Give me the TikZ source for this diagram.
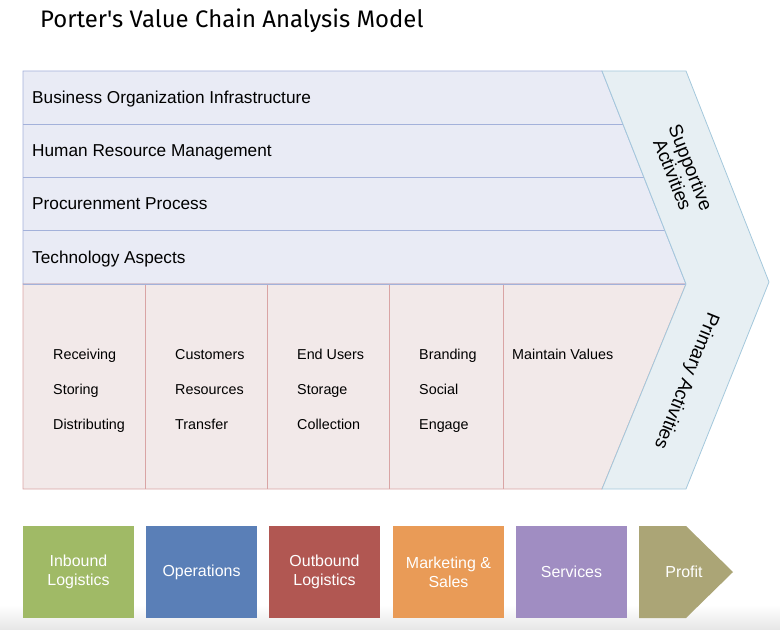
\documentclass[tikz,border=0pt]{standalone}
\usepackage{fontspec}
\setmainfont{Liberation Sans}
\newfontfamily\titlefont{Fira Sans}
\definecolor{supfill}{HTML}{E9EBF5}
\definecolor{supline}{HTML}{A3B1DA}
\definecolor{prifill}{HTML}{F2E9E9}
\definecolor{priline}{HTML}{D9A4A4}
\definecolor{chevfill}{HTML}{E7EFF3}
\definecolor{chevline}{HTML}{A4C8DC}
\definecolor{cInb}{HTML}{A0BA66}
\definecolor{cOps}{HTML}{5A7FB7}
\definecolor{cOut}{HTML}{B15752}
\definecolor{cMkt}{HTML}{E99B57}
\definecolor{cSrv}{HTML}{A08DC2}
\definecolor{cPro}{HTML}{ABA576}
\definecolor{shade}{HTML}{E6E6E6}
\tikzset{
  rowtext/.style={anchor=base west, inner sep=0pt, font=\fontsize{17.3}{20}\selectfont},
  coltext/.style={anchor=base west, inner sep=0pt, font=\fontsize{14.4}{17}\selectfont},
  chevtext/.style={inner sep=0pt, align=center, font=\fontsize{19}{19.5}\selectfont},
  boxnode/.style={minimum width=111bp, minimum height=92bp, inner sep=0pt, align=center,
    text=white, font=\fontsize{16}{19}\selectfont},
}
\begin{document}
\begin{tikzpicture}[x=1bp,y=-1bp]
\useasboundingbox (0,0) rectangle (780,630);
% bottom shade
\shade[top color=white, bottom color=shade] (0,605) rectangle (780,630);
% title
\node[anchor=base west, inner sep=0pt, font=\titlefont\fontsize{24}{28}\selectfont] (title) at (40,28) {Porter's Value Chain Analysis Model};
% supportive activities block
\filldraw[fill=supfill, draw=supline, line width=0.8bp] (23,71) -- (602,71) -- (686,284) -- (23,284) -- cycle;
\draw[supline, line width=0.8bp] (23,124) -- (622.9,124);
\draw[supline, line width=0.8bp] (23,177) -- (643.8,177);
\draw[supline, line width=0.8bp] (23,230) -- (664.7,230);
% primary block
\filldraw[fill=prifill, draw=priline, line width=0.8bp] (23,284) -- (686,284) -- (602,489) -- (23,489) -- cycle;
\foreach \xx in {145,267,389,503} \draw[priline, line width=0.8bp] (\xx,284) -- (\xx,489);
\draw[supline, line width=0.8bp] (23,284) -- (686,284);
% chevron
\filldraw[fill=chevfill, draw=chevline, line width=0.8bp] (602,71) -- (686,71) -- (769,282) -- (686,489) -- (602,489) -- (686,284) -- cycle;
% row texts
\node[rowtext] (r1) at (32,104) {Business Organization Infrastructure};
\node[rowtext] (r2) at (32,157) {Human Resource Management};
\node[rowtext] (r3) at (32,210) {Procurenment Process};
\node[rowtext] (r4) at (32,263) {Technology Aspects};
% column texts
\node[coltext] (a1) at (53,359) {Receiving};
\node[coltext] (a2) at (53,394) {Storing};
\node[coltext] (a3) at (53,429) {Distributing};
\node[coltext] (b1) at (175,359) {Customers};
\node[coltext] (b2) at (175,394) {Resources};
\node[coltext] (b3) at (175,429) {Transfer};
\node[coltext] (c1) at (297,359) {End Users};
\node[coltext] (c2) at (297,394) {Storage};
\node[coltext] (c3) at (297,429) {Collection};
\node[coltext] (d1) at (419,359) {Branding};
\node[coltext] (d2) at (419,394) {Social};
\node[coltext] (d3) at (419,429) {Engage};
\node[coltext] (e1) at (512,359) {Maintain Values};
% chevron labels
\node[chevtext, rotate=-68.5] (sup) at (682,171) {Supportive\\Activities};
\node[chevtext, rotate=-111.8] (pri) at (686,381) {Primary Activities};
% bottom boxes
\node[boxnode, fill=cInb] (inb) at (78.5,572) {Inbound\\Logistics};
\node[boxnode, fill=cOps] (ops) at (201.5,572) {Operations};
\node[boxnode, fill=cOut] (out) at (324.5,572) {Outbound\\Logistics};
\node[boxnode, fill=cMkt] (mkt) at (448.5,572) {Marketing \&\\Sales};
\node[boxnode, fill=cSrv] (srv) at (571.5,572) {Services};
\fill[cPro] (639,526) -- (686,526) -- (733,572) -- (686,618) -- (639,618) -- cycle;
\node[inner sep=0pt, text=white, font=\fontsize{16}{19}\selectfont] (pro) at (684,572) {Profit};
\end{tikzpicture}
\end{document}
